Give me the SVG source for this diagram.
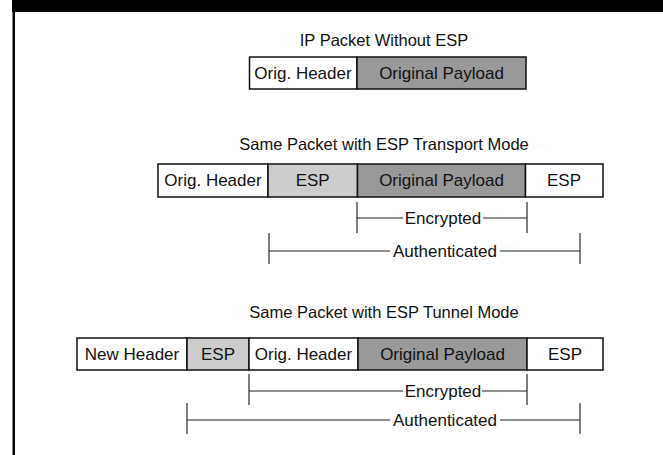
<svg xmlns="http://www.w3.org/2000/svg" width="663" height="455" viewBox="0 0 663 455">
<style>
text{font-family:"Liberation Sans",Arial,sans-serif;fill:#111;text-anchor:middle}
.t{font-size:16.5px}
.b{font-size:17px}
.c{stroke:#111;stroke-width:1.5}
.w{fill:#fff}
.l{fill:#ccc}
.d{fill:#999}
.br{stroke:#222;stroke-width:1.2;fill:none}
.v{stroke:#555;stroke-width:1.5}
</style>
<rect width="663" height="455" fill="#fff"/>
<rect x="12" y="0" width="651" height="12" fill="#000"/>
<rect x="12.5" y="0" width="2.5" height="455" fill="#000"/>

<g id="row1">
<text class="t" x="384" y="46">IP Packet Without ESP</text>
<g id="r1-orig"><rect class="c w" x="249.5" y="57" width="107.5" height="32"/><text class="b" x="303" y="79">Orig. Header</text></g>
<g id="r1-payload"><rect class="c d" x="357" y="57" width="169" height="32"/><text class="b" x="441.5" y="79">Original Payload</text></g>
</g>

<g id="row2">
<text class="t" x="384" y="150">Same Packet with ESP Transport Mode</text>
<g id="r2-orig"><rect class="c w" x="158" y="164" width="110" height="33"/><text class="b" x="213" y="186">Orig. Header</text></g>
<g id="r2-esp"><rect class="c l" x="268" y="164" width="89.5" height="33"/><text class="b" x="312.7" y="186">ESP</text></g>
<g id="r2-payload"><rect class="c d" x="357.5" y="164" width="168" height="33"/><text class="b" x="441.5" y="186">Original Payload</text></g>
<g id="r2-esp2"><rect class="c w" x="525.5" y="164" width="77.5" height="33"/><text class="b" x="564" y="186">ESP</text></g>
</g>

<g id="row3">
<text class="t" x="384" y="318">Same Packet with ESP Tunnel Mode</text>
<g id="r3-new"><rect class="c w" x="77" y="338" width="110" height="32"/><text class="b" x="132" y="360">New Header</text></g>
<g id="r3-esp"><rect class="c l" x="187" y="338" width="62" height="32"/><text class="b" x="218" y="360">ESP</text></g>
<g id="r3-orig"><rect class="c w" x="249" y="338" width="109" height="32"/><text class="b" x="303.5" y="360">Orig. Header</text></g>
<g id="r3-payload"><rect class="c d" x="358" y="338" width="169" height="32"/><text class="b" x="442.5" y="360">Original Payload</text></g>
<g id="r3-esp2"><rect class="c w" x="527" y="338" width="76" height="32"/><text class="b" x="565" y="360">ESP</text></g>
</g>

<g id="connectors">
<line class="v" x1="357" y1="202" x2="357" y2="233"/>
<line class="v" x1="527" y1="202" x2="527" y2="233"/>
<path class="br" d="M357 218H403M483 218H527"/>
<text class="b" x="443" y="224">Encrypted</text>
<line class="v" x1="269" y1="233" x2="269" y2="264"/>
<line class="v" x1="580" y1="233" x2="580" y2="264"/>
<path class="br" d="M269 251H390M500 251H580"/>
<text class="b" x="445" y="257">Authenticated</text>

<line class="v" x1="249" y1="374" x2="249" y2="405"/>
<line class="v" x1="527" y1="374" x2="527" y2="405"/>
<path class="br" d="M249 391H403M482 391H527"/>
<text class="b" x="443" y="397">Encrypted</text>
<line class="v" x1="187" y1="403" x2="187" y2="434"/>
<line class="v" x1="580" y1="403" x2="580" y2="434"/>
<path class="br" d="M187 420H390M500 420H580"/>
<text class="b" x="445" y="426">Authenticated</text>
</g>
</svg>
